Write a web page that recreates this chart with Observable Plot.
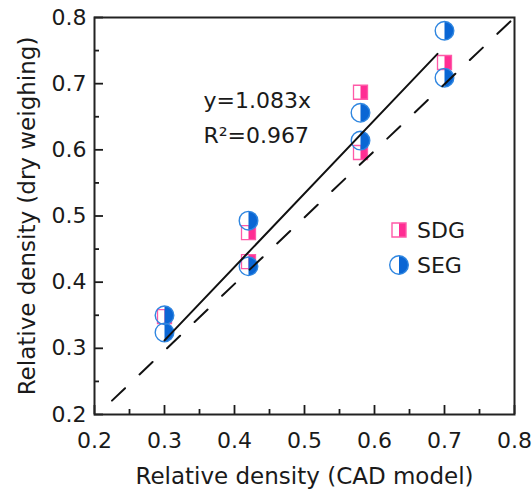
<!DOCTYPE html>
<html><head><meta charset="utf-8">
<script src="https://cdn.jsdelivr.net/npm/d3@7"></script>
<script src="https://cdn.jsdelivr.net/npm/@observablehq/plot@0.6"></script>
<style>
body{margin:0;background:#fff;}
#chart{position:relative;width:532px;height:493px;}
</style>
</head><body><div id="chart"></div>
<script>
// ---- data ----
const majorTicks = [0.2, 0.3, 0.4, 0.5, 0.6, 0.7, 0.8];
const minorTicks = [0.25, 0.35, 0.45, 0.55, 0.65, 0.75];
const seriesNames = ["SDG", "SEG"];
const sdgX = [0.30, 0.42, 0.42, 0.58, 0.58, 0.70];
const sdgY = [0.348, 0.475, 0.431, 0.687, 0.596, 0.732];
const segX = [0.30, 0.30, 0.42, 0.42, 0.58, 0.58, 0.70, 0.70];
const segY = [0.350, 0.324, 0.493, 0.424, 0.656, 0.614, 0.780, 0.709];
const fitX = [0.30, 0.69];
const fitY = [0.312, 0.745];
const diagX = [0.225, 0.80];
const diagY = [0.221, 0.80];
const fitLabels = ["y=1.083x", "R\u00B2=0.967"];
const xTitle = "Relative density (CAD model)";
const yTitle = "Relative density (dry weighing)";

// ---- styling ----
const FONT = "'DejaVu Sans', sans-serif";
const INK = "#1a1a1a";
const PINK = "#ff2d93", PINK_LINE = "#ff5aa8";
const BLUE = "#0a66d4", BLUE_LINE = "#2f86e0";

const rOf = (size) => Math.sqrt(size / Math.PI);
const squareOutline = {draw(c, s){ const r = rOf(s); c.rect(-r, -r, 2*r, 2*r); }};
const squareHalf = {draw(c, s){ const r = rOf(s); c.moveTo(0,-r); c.lineTo(r,-r); c.lineTo(r,r); c.lineTo(0,r); c.closePath(); }};
const circleOutline = {draw(c, s){ const r = rOf(s); c.moveTo(r,0); c.arc(0,0,r,0,2*Math.PI); c.closePath(); }};
const circleHalf = {draw(c, s){ const r = rOf(s); c.moveTo(0,-r); c.arc(0,0,r,-Math.PI/2,Math.PI/2); c.closePath(); }};

const sdg = sdgX.map((x, i) => ({x, y: sdgY[i]}));
const seg = segX.map((x, i) => ({x, y: segY[i]}));
const fit = fitX.map((x, i) => ({x, y: fitY[i]}));
const diag = diagX.map((x, i) => ({x, y: diagY[i]}));
const fmt = d3.format(".1f");

const SQ = 7, CR = 9.3;

const plot = Plot.plot({
  width: 532, height: 493,
  marginLeft: 94, marginRight: 18, marginTop: 17, marginBottom: 79,
  x: {domain: [0.2, 0.8]},
  y: {domain: [0.2, 0.8]},
  style: {fontFamily: FONT, fontSize: "22px", color: INK, background: "#fff"},
  marks: [
    // markers
    Plot.dot(sdg, {x: "x", y: "y", r: SQ, symbol: squareHalf, fill: PINK, stroke: "none"}),
    Plot.dot(sdg, {x: "x", y: "y", r: SQ, symbol: squareOutline, fill: "none", stroke: PINK_LINE, strokeWidth: 1.3}),
    Plot.dot(seg, {x: "x", y: "y", r: CR, symbol: circleHalf, fill: BLUE, stroke: "none"}),
    Plot.dot(seg, {x: "x", y: "y", r: CR, symbol: circleOutline, fill: "none", stroke: BLUE_LINE, strokeWidth: 1.4}),
    // lines
    Plot.line(fit, {x: "x", y: "y", stroke: "#111", strokeWidth: 2}),
    Plot.line(diag, {x: "x", y: "y", stroke: "#111", strokeWidth: 2, strokeDasharray: "18,20"}),
    // axes
    Plot.axisX(majorTicks, {tickSize: -9, tickFormat: () => "", strokeWidth: 1.8, label: null}),
    Plot.axisX(minorTicks, {tickSize: -5, tickFormat: () => "", strokeWidth: 1.8, label: null}),
    Plot.axisX(majorTicks, {tickSize: 0, tickPadding: 18, tickFormat: fmt, fontSize: 22, fill: INK, label: null}),
    Plot.axisY(majorTicks, {tickSize: -9, tickFormat: () => "", strokeWidth: 1.8, label: null}),
    Plot.axisY(minorTicks, {tickSize: -5, tickFormat: () => "", strokeWidth: 1.8, label: null}),
    Plot.axisY(majorTicks, {tickSize: 0, tickPadding: 8, tickFormat: fmt, fontSize: 22, fill: INK, label: null}),
    Plot.frame({stroke: "#222", strokeWidth: 2}),
    // annotations
    Plot.text([fitLabels[0]], {frameAnchor: "top-left", dx: 109, dy: 75, lineAnchor: "top", textAnchor: "start", fontSize: 22, fill: INK}),
    Plot.text([fitLabels[1]], {frameAnchor: "top-left", dx: 109, dy: 110, lineAnchor: "top", textAnchor: "start", fontSize: 22, fill: INK}),
    // titles
    Plot.text([xTitle], {frameAnchor: "bottom", dy: 62, lineAnchor: "middle", textAnchor: "middle", fontSize: 23, fill: INK}),
    Plot.text([yTitle], {frameAnchor: "left", dx: -67, rotate: -90, lineAnchor: "middle", textAnchor: "middle", fontSize: 23, fill: INK})
  ]
});
document.getElementById("chart").appendChild(plot);

// ---- legend (inside plot area) ----
const svg = d3.select(plot);
const leg = svg.append("g").attr("font-family", FONT).attr("font-size", 22).attr("fill", INK).attr("text-anchor", "start");
const legendItems = [
  {name: seriesNames[0], y: 230, half: squareHalf, outline: squareOutline, r: SQ, fill: PINK, stroke: PINK_LINE},
  {name: seriesNames[1], y: 265, half: circleHalf, outline: circleOutline, r: CR, fill: BLUE, stroke: BLUE_LINE}
];
for (const it of legendItems) {
  const g = leg.append("g").attr("transform", `translate(399,${it.y})`);
  const p1 = d3.path(); it.half.draw(p1, it.r * it.r * Math.PI);
  const p2 = d3.path(); it.outline.draw(p2, it.r * it.r * Math.PI);
  g.append("path").attr("d", p1.toString()).attr("fill", it.fill);
  g.append("path").attr("d", p2.toString()).attr("fill", "none").attr("stroke", it.stroke).attr("stroke-width", 1.4);
  g.append("text").attr("x", 18).attr("dy", "0.35em").attr("text-anchor", "start").text(it.name);
}
</script>
</body></html>
